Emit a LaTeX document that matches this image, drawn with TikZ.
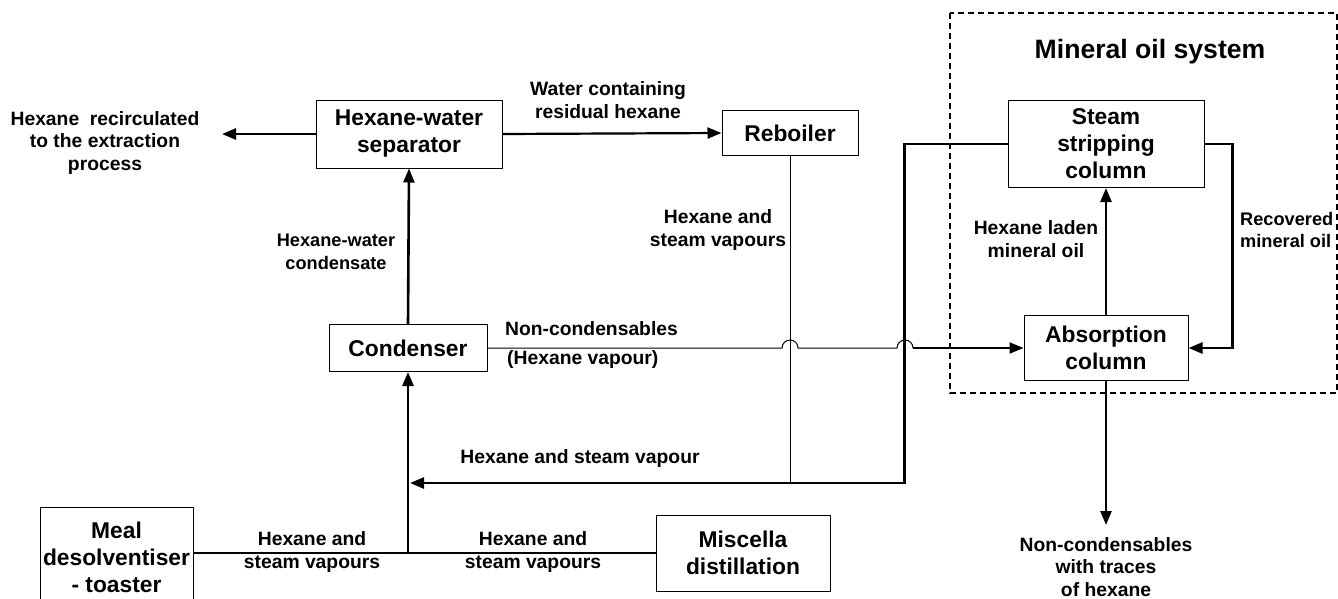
\documentclass[tikz,border=0pt]{standalone}
\usepackage{fontspec}
\setmainfont{Liberation Sans}
\usetikzlibrary{arrows.meta}
\newcommand\boxfont{\bfseries\fontsize{22.8}{27}\selectfont}
\newcommand\lblfont{\bfseries\fontsize{19.3}{22.5}\selectfont}
\newcommand\smalllblfont{\bfseries\fontsize{18.2}{22.5}\selectfont}
\newcommand\titlefont{\bfseries\fontsize{26.6}{30}\selectfont}
\begin{document}
\begin{tikzpicture}[x=1pt,y=-1pt,
  box/.style={draw, line width=1pt, align=center, font=\boxfont, inner sep=0pt},
  lbl/.style={align=center, font=\lblfont, inner sep=0pt},
  flow/.style={line width=2.6pt, -{Triangle[length=14pt,width=11pt]}},
  feed/.style={line width=1pt},
  joinline/.style={line width=2pt},
  sysbox/.style={line width=1.8pt, dash pattern=on 6pt off 4pt}
]
\useasboundingbox (0,0) rectangle (1338,598);
\clip (0,0) rectangle (1338,598);

% process units
\node[box, minimum width=186pt, minimum height=68pt] (sep) at (409,134) {Hexane-water\\separator};
\node[box, minimum width=136pt, minimum height=45pt] (reb) at (790,133) {Reboiler};
\node[box, minimum width=158pt, minimum height=47pt] (cond) at (408,348) {Condenser};
\node[box, minimum width=196pt, minimum height=87pt] (strip) at (1106,144) {Steam\\stripping\\column};
\node[box, minimum width=164pt, minimum height=65pt] (abs) at (1106,348) {Absorption\\column};
\node[box, minimum width=153pt, minimum height=100pt, anchor=north] (meal) at (116.5,507) {Meal\\desolventiser\\- toaster};
\node[box, minimum width=174pt, minimum height=76pt] (misc) at (743,553) {Miscella\\distillation};

% mineral oil system boundary
\draw[sysbox] (950,13) rectangle (1337,393);
\node[font=\titlefont, inner sep=0pt] (systitle) at (1150,52) {Mineral oil system};

% stream labels
\node[lbl] (recirc) at (105,143) {Hexane\ \ recirculated\\to the extraction\\process};
\node[lbl] (waterlbl) at (608,100) {Water containing\\residual hexane};
\node[lbl] (rebvap) at (718,230) {Hexane and\\steam vapours};
\node[lbl, font=\smalllblfont] (condlbl) at (336,252) {Hexane-water\\condensate};
\node[lbl, anchor=west] (nclbl) at (505,329) {Non-condensables};
\node[lbl, anchor=west] (hvlbl) at (507,360) {(Hexane vapour)};
\node[lbl] (vaplbl) at (580,458) {Hexane and steam vapour};
\node[lbl] (meallbl) at (312,552) {Hexane and\\steam vapours};
\node[lbl] (misclbl) at (533,552) {Hexane and\\steam vapours};
\node[lbl] (ladenlbl) at (1036,239) {Hexane laden\\mineral oil};
\node[lbl, font=\smalllblfont, align=left, anchor=west] (reclbl) at (1240,230) {Recovered\\mineral oil};
\node[lbl] (ventlbl) at (1106,567) {Non-condensables\\with traces\\of hexane};

% junction and routing points
\coordinate (recend) at (222,134);
\coordinate (junc) at (408,553);
\coordinate (vapend) at (410,483);
\coordinate (hop1) at (790,348);
\coordinate (hop2) at (905,348);
\coordinate (ventend) at (1106,525);

% connectors
\draw[flow] (sep.west) -- (recend);
\draw[flow, line width=2.2pt] (sep.east) -- (reb.west);
\draw[flow] (cond.north) -- (sep.south);
\draw[feed] (reb.south) -- (reb.south |- vapend);
\draw[flow] (strip.west) -- ++(-103,0) |- (vapend);
\draw[joinline] (meal.east |- junc) -- (misc.west |- junc);
\draw[flow] (junc) -- (cond.south);
\draw[feed] (cond.east) -- ([xshift=-8pt]hop1) arc[start angle=180, end angle=360, radius=8]
  -- ([xshift=-8pt]hop2) arc[start angle=180, end angle=360, radius=8];
\draw[flow, line width=2pt] ([xshift=8pt]hop2) -- (abs.west);
\draw[flow] (abs.north) -- (strip.south);
\draw[flow] (strip.east) -- ++(28,0) |- (abs.east);
\draw[flow] (abs.south) -- (ventend);
\end{tikzpicture}
\end{document}
